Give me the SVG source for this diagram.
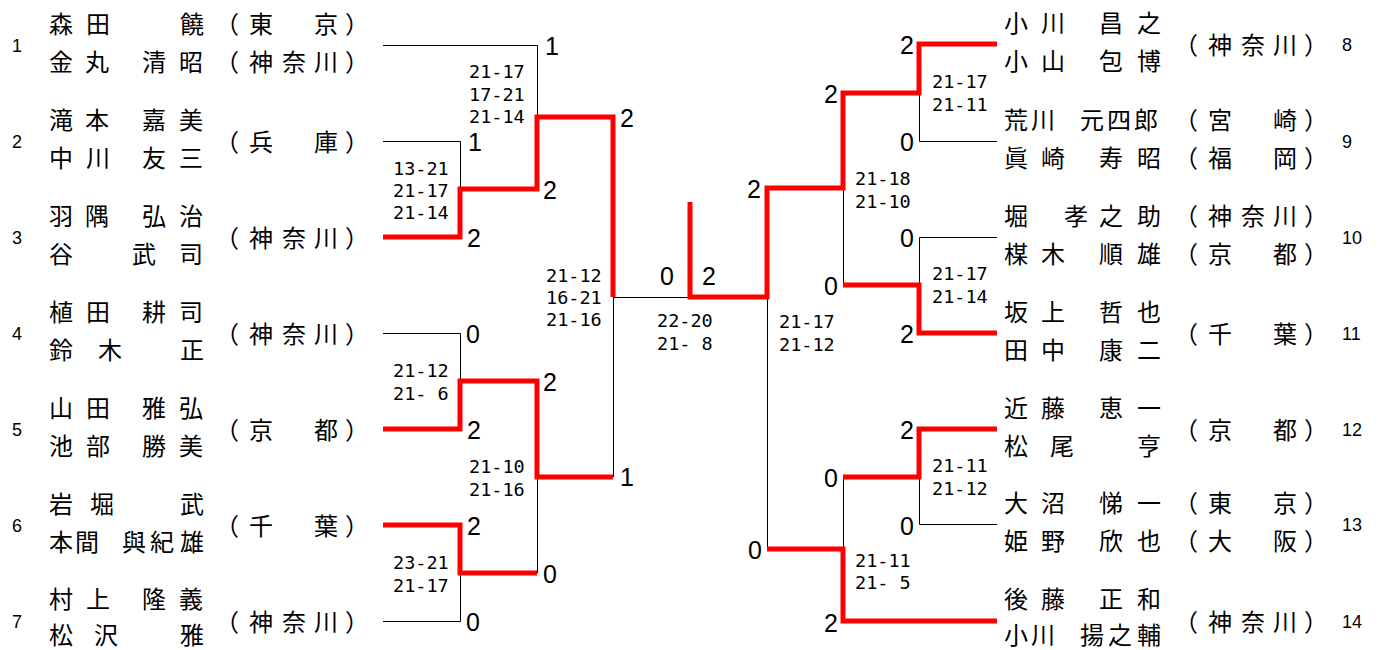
<svg xmlns="http://www.w3.org/2000/svg" width="1383" height="650" viewBox="0 0 1383 650">
<style>
.nm{font-family:"Noto Sans CJK JP","Noto Sans CJK SC",sans-serif;font-size:24px;fill:#000}
.no{font-family:"Liberation Sans",Arial,sans-serif;font-size:18px;fill:#000}
.sc{font-family:"Liberation Sans",Arial,sans-serif;font-size:25px;fill:#000}
.scr{font-family:"Liberation Sans",Arial,sans-serif;font-size:25px;fill:#000;text-anchor:end}
.gs{font-family:"DejaVu Sans Mono","Liberation Mono",monospace;font-size:18.5px;fill:#000}
.bk{fill:none;stroke:#000;stroke-width:1}
.rd{fill:none;stroke:#ff0000;stroke-width:5;stroke-linejoin:miter;stroke-linecap:butt}
</style>
<rect width="1383" height="650" fill="#fff"/>

<g id="connectors">
  <g class="bk">
    <path d="M383 45.5H537.5V117"/>
    <path d="M383 141.5H460.5V189"/>
    <path d="M383 333.5H460.5V381"/>
    <path d="M383 621.5H460.5V573"/>
    <path d="M537.5 477V573"/>
    <path d="M613.5 297V477"/>
    <path d="M613 297.5H690"/>
    <path d="M767.5 297V549"/>
    <path d="M843.5 188V285"/>
    <path d="M843.5 477V549"/>
    <path d="M997 141.5H919.5V93"/>
    <path d="M997 237.5H919.5V285"/>
    <path d="M997 524.5H919.5V477"/>
  </g>
  <g class="rd">
    <path d="M383 237H460V189H537V117H613V297"/>
    <path d="M383 429H460V381H537V477H613"/>
    <path d="M383 525H460V573H537"/>
    <path d="M690 202V297H767V188H843V93H919V44H997"/>
    <path d="M767 549H843V621H997"/>
    <path d="M843 285H919V333H997"/>
    <path d="M843 477H919V429H997"/>
  </g>
</g>

<g id="match-scores">
  <text class="sc" x="545" y="55">1</text>
  <text class="sc" x="620" y="127">2</text>
  <text class="sc" x="468" y="151">1</text>
  <text class="sc" x="543" y="199">2</text>
  <text class="sc" x="467" y="247">2</text>
  <text class="sc" x="660" y="285">0</text>
  <text class="sc" x="702" y="285">2</text>
  <text class="sc" x="466" y="343">0</text>
  <text class="sc" x="543" y="391">2</text>
  <text class="sc" x="467" y="439">2</text>
  <text class="sc" x="620" y="486">1</text>
  <text class="sc" x="467" y="535">2</text>
  <text class="sc" x="543" y="583">0</text>
  <text class="sc" x="466" y="631">0</text>
  <text class="scr" x="914" y="54">2</text>
  <text class="scr" x="838" y="103">2</text>
  <text class="scr" x="914" y="151">0</text>
  <text class="scr" x="761" y="198">2</text>
  <text class="scr" x="914" y="247">0</text>
  <text class="scr" x="838" y="295">0</text>
  <text class="scr" x="914" y="343">2</text>
  <text class="scr" x="914" y="439">2</text>
  <text class="scr" x="838" y="487">0</text>
  <text class="scr" x="914" y="535">0</text>
  <text class="scr" x="762" y="559">0</text>
  <text class="scr" x="838" y="632">2</text>
</g>

<g id="game-scores">
  <text class="gs" y="78"><tspan x="469">21-17</tspan><tspan x="469" dy="22.5">17-21</tspan><tspan x="469" dy="22.5">21-14</tspan></text>
  <text class="gs" y="175"><tspan x="393">13-21</tspan><tspan x="393" dy="22">21-17</tspan><tspan x="393" dy="22">21-14</tspan></text>
  <text class="gs" y="282"><tspan x="546">21-12</tspan><tspan x="546" dy="22">16-21</tspan><tspan x="546" dy="22">21-16</tspan></text>
  <text class="gs" y="377"><tspan x="393">21-12</tspan><tspan x="393" dy="23">21- 6</tspan></text>
  <text class="gs" y="473"><tspan x="469">21-10</tspan><tspan x="469" dy="23">21-16</tspan></text>
  <text class="gs" y="569"><tspan x="393">23-21</tspan><tspan x="393" dy="23">21-17</tspan></text>
  <text class="gs" y="327"><tspan x="657">22-20</tspan><tspan x="657" dy="23">21- 8</tspan></text>
  <text class="gs" y="328"><tspan x="779">21-17</tspan><tspan x="779" dy="23">21-12</tspan></text>
  <text class="gs" y="185"><tspan x="855">21-18</tspan><tspan x="855" dy="23">21-10</tspan></text>
  <text class="gs" y="88"><tspan x="932">21-17</tspan><tspan x="932" dy="23">21-11</tspan></text>
  <text class="gs" y="280"><tspan x="932">21-17</tspan><tspan x="932" dy="23">21-14</tspan></text>
  <text class="gs" y="472"><tspan x="932">21-11</tspan><tspan x="932" dy="23">21-12</tspan></text>
  <text class="gs" y="567"><tspan x="855">21-11</tspan><tspan x="855" dy="22">21- 5</tspan></text>
</g>

<g id="entry-1">
  <text class="no" x="12" y="52">1</text>
  <text class="nm" x="49 86 180" y="33">森田饒</text>
  <text class="nm" x="49 85 142 179" y="71">金丸清昭</text>
  <text class="nm" x="215 249 314 345" y="33">（東京）</text>
  <text class="nm" x="215 249 282 314 345" y="71">（神奈川）</text>
</g>
<g id="entry-2">
  <text class="no" x="12" y="148">2</text>
  <text class="nm" x="49 85 142 179" y="129">滝本嘉美</text>
  <text class="nm" x="49 86 142 179" y="167">中川友三</text>
  <text class="nm" x="215 249 314 345" y="151">（兵庫）</text>
</g>
<g id="entry-3">
  <text class="no" x="12" y="244">3</text>
  <text class="nm" x="49 85 142 179" y="225">羽隅弘治</text>
  <text class="nm" x="49 132 179" y="263">谷武司</text>
  <text class="nm" x="215 249 282 314 345" y="247">（神奈川）</text>
</g>
<g id="entry-4">
  <text class="no" x="12" y="340">4</text>
  <text class="nm" x="49 86 142 179" y="321">植田耕司</text>
  <text class="nm" x="49 98 180" y="359">鈴木正</text>
  <text class="nm" x="215 249 282 314 345" y="343">（神奈川）</text>
</g>
<g id="entry-5">
  <text class="no" x="12" y="436">5</text>
  <text class="nm" x="49 86 142 179" y="417">山田雅弘</text>
  <text class="nm" x="49 86 142 179" y="455">池部勝美</text>
  <text class="nm" x="215 249 314 345" y="439">（京都）</text>
</g>
<g id="entry-6">
  <text class="no" x="12" y="532">6</text>
  <text class="nm" x="49 90 180" y="513">岩堀武</text>
  <text class="nm" x="49 75 122 150 180" y="551">本間與紀雄</text>
  <text class="nm" x="215 249 314 345" y="535">（千葉）</text>
</g>
<g id="entry-7">
  <text class="no" x="12" y="628">7</text>
  <text class="nm" x="49 86 142 179" y="608">村上隆義</text>
  <text class="nm" x="49 94 180" y="644">松沢雅</text>
  <text class="nm" x="215 249 282 314 345" y="631">（神奈川）</text>
</g>

<g id="entry-8">
  <text class="nm" x="1004 1041 1099 1137" y="32">小川昌之</text>
  <text class="nm" x="1004 1041 1099 1137" y="70">小山包博</text>
  <text class="nm" x="1174 1208 1241 1273 1304" y="54">（神奈川）</text>
  <text class="no" x="1342" y="51">8</text>
</g>
<g id="entry-9">
  <text class="nm" x="1004 1031 1080 1107 1134" y="129">荒川元四郎</text>
  <text class="nm" x="1004 1041 1099 1137" y="167">眞崎寿昭</text>
  <text class="nm" x="1174 1208 1273 1304" y="129">（宮崎）</text>
  <text class="nm" x="1174 1208 1273 1304" y="167">（福岡）</text>
  <text class="no" x="1342" y="148">9</text>
</g>
<g id="entry-10">
  <text class="nm" x="1004 1064 1099 1137" y="225">堀孝之助</text>
  <text class="nm" x="1004 1041 1099 1137" y="263">楳木順雄</text>
  <text class="nm" x="1174 1208 1241 1273 1304" y="225">（神奈川）</text>
  <text class="nm" x="1174 1208 1273 1304" y="263">（京都）</text>
  <text class="no" x="1342" y="244">10</text>
</g>
<g id="entry-11">
  <text class="nm" x="1004 1041 1099 1137" y="321">坂上哲也</text>
  <text class="nm" x="1004 1041 1099 1137" y="359">田中康二</text>
  <text class="nm" x="1174 1208 1273 1304" y="343">（千葉）</text>
  <text class="no" x="1342" y="340">11</text>
</g>
<g id="entry-12">
  <text class="nm" x="1004 1041 1099 1137" y="417">近藤恵一</text>
  <text class="nm" x="1004 1050 1137" y="455">松尾亨</text>
  <text class="nm" x="1174 1208 1273 1304" y="439">（京都）</text>
  <text class="no" x="1342" y="436">12</text>
</g>
<g id="entry-13">
  <text class="nm" x="1004 1041 1099 1137" y="512">大沼悌一</text>
  <text class="nm" x="1004 1041 1099 1137" y="550">姫野欣也</text>
  <text class="nm" x="1174 1208 1273 1304" y="512">（東京）</text>
  <text class="nm" x="1174 1208 1273 1304" y="550">（大阪）</text>
  <text class="no" x="1342" y="531">13</text>
</g>
<g id="entry-14">
  <text class="nm" x="1004 1041 1099 1137" y="608">後藤正和</text>
  <text class="nm" x="1004 1031 1080 1108 1137" y="644">小川揚之輔</text>
  <text class="nm" x="1174 1208 1241 1273 1304" y="631">（神奈川）</text>
  <text class="no" x="1342" y="628">14</text>
</g>
</svg>
